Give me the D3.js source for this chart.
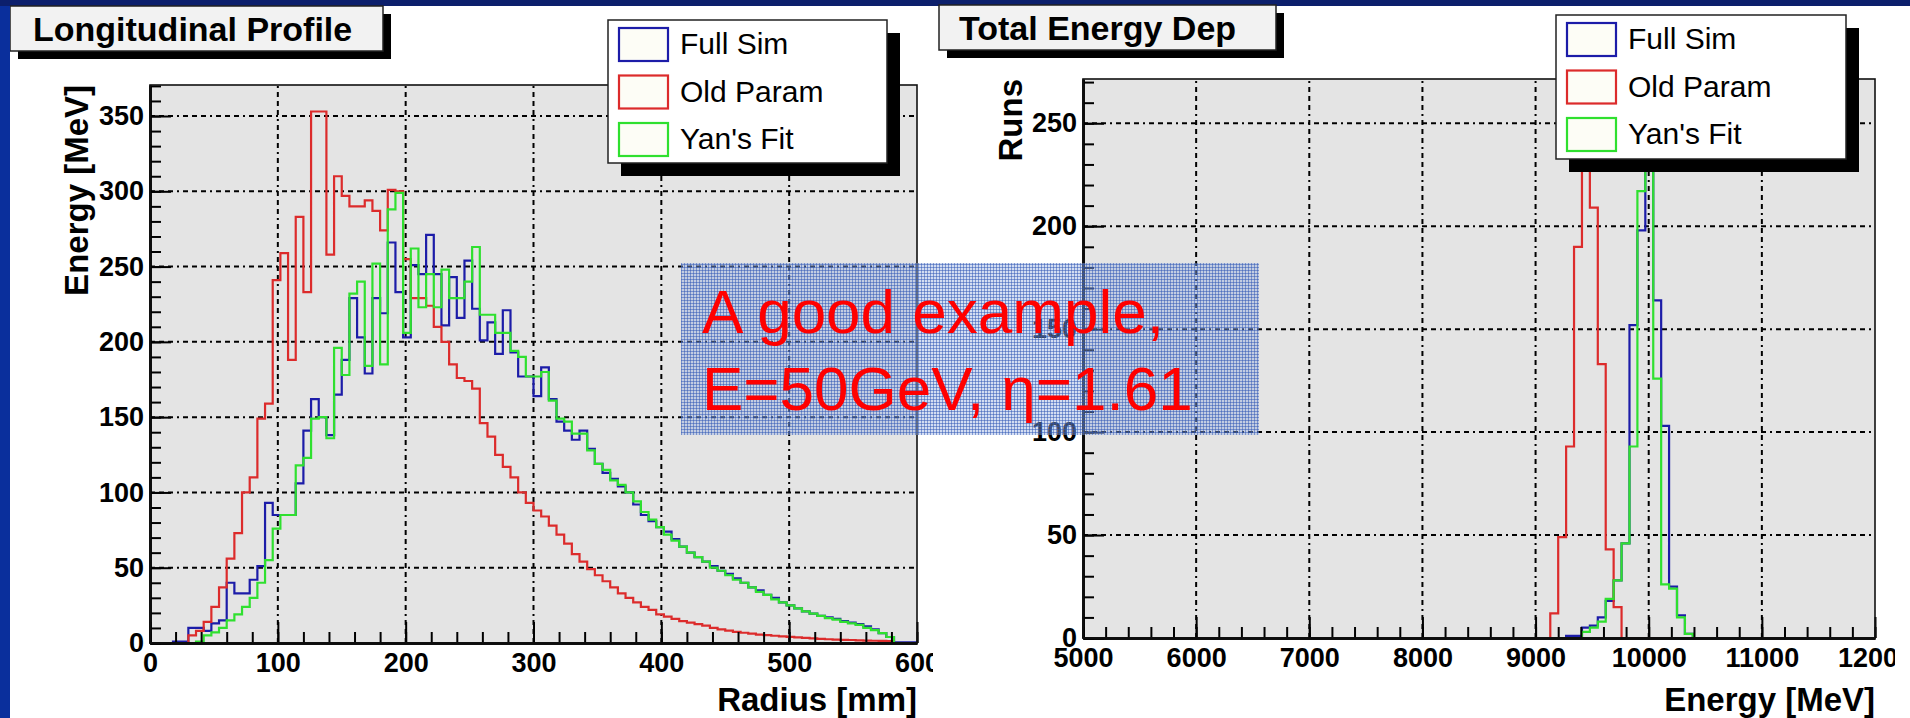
<!DOCTYPE html>
<html>
<head>
<meta charset="utf-8">
<script src="https://cdn.jsdelivr.net/npm/d3@7"></script>
<style>
  body { margin: 0; background: #fff; }
  svg { display: block; }
  text { font-family: "Liberation Sans", Arial, Helvetica, sans-serif; }
</style>
</head>
<body>
<svg id="chart" width="1910" height="718"></svg>
<script>
// ---- data ----
var seriesNames = ['Full Sim', 'Old Param', "Yan's Fit"];
var seriesColors = ['#1c1ca8', '#dc2b2b', '#2fe02f'];

// radial profile: 100 bins of 6 mm starting at 0 mm
var radiusFirstEdge = 0, radiusBinWidth = 6;
var profileFullSim = [
  0, 0, 0, 1, 1, 10, 10, 8, 13, 15,
  40, 33, 33, 42, 51, 93, 85, 85, 85, 106,
  141, 162, 150, 138, 165, 188, 229, 203, 179, 229,
  219, 266, 233, 203, 251, 245, 271, 245, 211, 243,
  216, 254, 222, 201, 213, 192, 221, 193, 177, 177,
  164, 183, 162, 147, 141, 135, 141, 129, 119, 113,
  109, 104, 100, 92, 85, 81, 77, 74, 69, 64,
  60, 57, 54, 51, 48, 46, 43, 40, 37, 35,
  32, 30, 27, 25, 23, 21, 19.5, 18, 17, 16,
  14.5, 13.5, 12.5, 11, 9, 6.5, 4, 0.5, 0.5, 0.5
];
var profileOldParam = [
  0, 0, 0, 0, 0, 5, 8, 14, 24, 37,
  56, 73, 100, 110, 149, 159, 241, 259, 188, 283,
  233, 353, 353, 258, 310, 297, 290, 290, 294, 287,
  274, 301, 300, 255, 229, 229, 224, 210, 200, 185,
  176, 174, 169, 146, 137, 125, 117, 110, 100, 93,
  88, 84, 78, 72, 66, 59, 54, 49, 45, 41,
  37, 33, 30, 27, 24, 22, 19, 17.5, 16, 14.5,
  13.5, 12.5, 11.5, 10, 9, 8.2, 7.4, 6.8, 6.2, 5.6,
  5.2, 4.8, 4.4, 4.1, 3.7, 3.4, 3.1, 2.8, 2.5, 2.3,
  2.1, 2, 1.8, 1.6, 1.5, 1.4, 1.2, 0, 0, 0
];
var profileYanFit = [
  0, 0, 0, 0, 0, 0, 1, 5, 7, 10,
  15, 19, 24, 30, 40, 55, 76, 85, 85, 118,
  123, 149, 150, 136, 196, 178, 232, 240, 184, 252,
  185, 288, 299, 206, 262, 223, 245, 223, 248, 229,
  229, 240, 263, 218, 218, 206, 206, 194, 190, 177,
  177, 180, 161, 149, 147, 139, 139, 128, 119, 115,
  108, 105, 100, 94, 87, 82, 77, 72, 68, 64,
  60, 57, 54, 50, 48, 45, 42, 40, 37, 34,
  32, 29, 27, 25, 23, 21, 19.5, 18, 16.5, 15.5,
  14, 13, 12, 10, 8.5, 6.5, 4, 0, 0, 0
];

// total deposit: 70 MeV bins, first listed bin starts at 9130 MeV
var energyFirstEdge = 9130, energyBinWidth = 70;
var depositFullSim  = [0, 0, 1, 1, 5, 6, 10, 18, 28, 46, 152, 198, 240, 164, 103, 25, 11, 2, 0];
var depositOldParam = [12, 49, 93, 190, 245, 209, 133, 43, 15, 0, 0, 0, 0, 0, 0, 0, 0, 0, 0];
var depositYanFit   = [0, 0, 0, 0, 3, 5, 8, 19, 28, 46, 93, 217, 259, 126, 26, 24, 10, 2, 0];

// axis ticks
var radiusMajor = [0, 100, 200, 300, 400, 500, 600];
var radiusMinor = d3.range(0, 601, 20);
var profileMajor = [0, 50, 100, 150, 200, 250, 300, 350];
var profileMinor = d3.range(0, 371, 10);
var energyMajor = [5000, 6000, 7000, 8000, 9000, 10000, 11000, 12000];
var energyMinor = d3.range(5000, 12001, 200);
var runsMajor = [0, 50, 100, 150, 200, 250];
var runsMinor = d3.range(0, 271, 10);

var svg = d3.select('#chart');
var defs = svg.append('defs');

// slide edges
svg.append('rect').attr('x', 0).attr('y', 0).attr('width', 10).attr('height', 718).attr('fill', '#0a2f9c');
svg.append('rect').attr('x', 0).attr('y', 0).attr('width', 1910).attr('height', 6).attr('fill', '#0c1f6c');

function stepPoints(values, firstEdge, width) {
  var pts = [[firstEdge, 0]];
  values.forEach(function(v, i) {
    pts.push([firstEdge + i * width, v], [firstEdge + (i + 1) * width, v]);
  });
  pts.push([firstEdge + values.length * width, 0]);
  return pts;
}

function styleAxis(g) {
  g.attr('font-family', '"Liberation Sans", Arial, sans-serif')
    .attr('font-size', 27)
    .attr('font-weight', 'bold');
  g.selectAll('.tick line').attr('stroke', '#000').attr('stroke-width', 2);
  g.select('.domain').attr('stroke', '#000').attr('stroke-width', 2.5);
}

function drawPad(p) {
  var clipId = 'clip-' + p.id;
  defs.append('clipPath').attr('id', clipId)
    .append('rect').attr('x', p.clip[0]).attr('y', 0)
    .attr('width', p.clip[1] - p.clip[0]).attr('height', 718);
  var frameClip = 'frame-' + p.id;
  defs.append('clipPath').attr('id', frameClip)
    .append('rect').attr('x', p.left).attr('y', p.top)
    .attr('width', p.right - p.left).attr('height', p.bottom - p.top);

  var pad = svg.append('g').attr('clip-path', 'url(#' + clipId + ')');

  var x = d3.scaleLinear().domain(p.xDomain).range([p.left, p.right]);
  var y = d3.scaleLinear().domain(p.yDomain).range([p.bottom, p.top]);

  // frame
  pad.append('rect')
    .attr('x', p.left).attr('y', p.top)
    .attr('width', p.right - p.left).attr('height', p.bottom - p.top)
    .attr('fill', '#e4e4e4');

  // grid, dash-dot like the ROOT style
  var grid = pad.append('g')
    .attr('stroke', '#000').attr('stroke-width', 2)
    .attr('stroke-dasharray', '5,4,5,4,5,4,2,4');
  grid.selectAll('.gx').data(p.xMajor.slice(1, -1)).enter().append('line')
    .attr('x1', function(d) { return x(d); }).attr('x2', function(d) { return x(d); })
    .attr('y1', p.bottom).attr('y2', p.top);
  grid.selectAll('.gy').data(p.yMajor.slice(1)).enter().append('line')
    .attr('x1', p.left).attr('x2', p.right)
    .attr('y1', function(d) { return y(d); }).attr('y2', function(d) { return y(d); });

  // histograms
  var line = d3.line()
    .x(function(d) { return x(d[0]); })
    .y(function(d) { return y(d[1]); });
  var hist = pad.append('g').attr('clip-path', 'url(#' + frameClip + ')');
  p.series.forEach(function(values, i) {
    hist.append('path')
      .attr('d', line(stepPoints(values, p.firstEdge, p.binWidth)))
      .attr('fill', 'none')
      .attr('stroke', seriesColors[i])
      .attr('stroke-width', 2.2)
      .attr('stroke-linejoin', 'miter');
  });

  // axes with inward ticks
  pad.append('g').attr('transform', 'translate(0,' + p.bottom + ')')
    .call(d3.axisBottom(x).tickValues(p.xMinor).tickSize(-11).tickSizeOuter(0).tickFormat(''))
    .call(styleAxis);
  pad.append('g').attr('transform', 'translate(0,' + p.bottom + ')')
    .call(d3.axisBottom(x).tickValues(p.xMajor).tickSize(-21).tickSizeOuter(0)
      .tickPadding(10).tickFormat(d3.format('d')))
    .call(styleAxis);
  pad.append('g').attr('transform', 'translate(' + p.left + ',0)')
    .call(d3.axisLeft(y).tickValues(p.yMinor).tickSize(-11).tickSizeOuter(0).tickFormat(''))
    .call(styleAxis);
  pad.append('g').attr('transform', 'translate(' + p.left + ',0)')
    .call(d3.axisLeft(y).tickValues(p.yMajor).tickSize(-21).tickSizeOuter(0)
      .tickPadding(7).tickFormat(d3.format('d')))
    .call(styleAxis)
    .selectAll('.tick text').attr('x', -6);

  pad.append('rect')
    .attr('x', p.left).attr('y', p.top)
    .attr('width', p.right - p.left).attr('height', p.bottom - p.top)
    .attr('fill', 'none').attr('stroke', '#111').attr('stroke-width', 1.6);

  // axis titles
  pad.append('text')
    .attr('x', p.right).attr('y', 711)
    .attr('text-anchor', 'end')
    .attr('font-size', 33).attr('font-weight', 'bold')
    .text(p.xTitle);
  pad.append('text')
    .attr('transform', 'translate(' + p.yTitleX + ',' + p.top + ') rotate(-90)')
    .attr('text-anchor', 'end')
    .attr('font-size', 33).attr('font-weight', 'bold')
    .text(p.yTitle);

  // title box
  var t = p.titleBox;
  pad.append('rect').attr('x', t.x + 8).attr('y', t.y + 8)
    .attr('width', t.w).attr('height', t.h).attr('fill', '#000');
  pad.append('rect').attr('x', t.x).attr('y', t.y)
    .attr('width', t.w).attr('height', t.h)
    .attr('fill', '#f2f2f2').attr('stroke', '#222').attr('stroke-width', 1.5);
  pad.append('text')
    .attr('x', t.x + t.pad).attr('y', t.y + 35)
    .attr('font-size', 34).attr('font-weight', 'bold')
    .text(p.title);

  // legend
  var L = p.legend;
  pad.append('rect').attr('x', L.x + 13).attr('y', L.y + 13)
    .attr('width', L.w).attr('height', L.h).attr('fill', '#000');
  pad.append('rect').attr('x', L.x).attr('y', L.y)
    .attr('width', L.w).attr('height', L.h)
    .attr('fill', '#fff').attr('stroke', '#222').attr('stroke-width', 1.5);
  var entry = pad.selectAll('.entry-' + p.id).data(seriesNames).enter().append('g')
    .attr('transform', function(d, i) { return 'translate(' + L.x + ',' + (L.y + 8 + i * 47.5) + ')'; });
  entry.append('rect')
    .attr('x', 11).attr('y', 0).attr('width', 49).attr('height', 33)
    .attr('fill', '#fdfdf6')
    .attr('stroke', function(d, i) { return seriesColors[i]; })
    .attr('stroke-width', 2.2);
  entry.append('text')
    .attr('x', 72).attr('y', 26)
    .attr('font-size', 30)
    .text(function(d) { return d; });
}

drawPad({
  id: 'profile', clip: [10, 933],
  left: 150, right: 917, top: 85, bottom: 643,
  xDomain: [0, 600], yDomain: [0, 370.6],
  xMajor: radiusMajor, xMinor: radiusMinor,
  yMajor: profileMajor, yMinor: profileMinor,
  firstEdge: radiusFirstEdge, binWidth: radiusBinWidth,
  series: [profileFullSim, profileOldParam, profileYanFit],
  xTitle: 'Radius [mm]', yTitle: 'Energy [MeV]', yTitleX: 88,
  title: 'Longitudinal Profile',
  titleBox: { x: 10, y: 6, w: 373, h: 45, pad: 23 },
  legend: { x: 608, y: 20, w: 279, h: 143 }
});

drawPad({
  id: 'deposit', clip: [933, 1895],
  left: 1083, right: 1875, top: 79, bottom: 638,
  xDomain: [5000, 12000], yDomain: [0, 271.5],
  xMajor: energyMajor, xMinor: energyMinor,
  yMajor: runsMajor, yMinor: runsMinor,
  firstEdge: energyFirstEdge, binWidth: energyBinWidth,
  series: [depositFullSim, depositOldParam, depositYanFit],
  xTitle: 'Energy [MeV]', yTitle: 'Runs', yTitleX: 1022,
  title: 'Total Energy Dep',
  titleBox: { x: 939, y: 5, w: 337, h: 45, pad: 20 },
  legend: { x: 1556, y: 15, w: 290, h: 144 }
});

// annotation box across both pads
var mesh = defs.append('pattern').attr('id', 'mesh')
  .attr('width', 3).attr('height', 3).attr('patternUnits', 'userSpaceOnUse');
mesh.append('rect').attr('width', 3).attr('height', 3).attr('fill', 'rgba(150,175,225,0.42)');
mesh.append('path').attr('d', 'M0,0.5H3M0.5,0V3')
  .attr('stroke', 'rgba(45,85,180,0.5)').attr('stroke-width', 1);

svg.append('rect')
  .attr('x', 681).attr('y', 263).attr('width', 578).attr('height', 172)
  .attr('fill', 'url(#mesh)');
var note = svg.append('text')
  .attr('fill', '#ff0000')
  .attr('font-size', 62);
note.append('tspan').attr('x', 702).attr('y', 333).text('A good example,');
note.append('tspan').attr('x', 702).attr('y', 410).text('E=50GeV, \u03b7=1.61');
</script>
</body>
</html>
